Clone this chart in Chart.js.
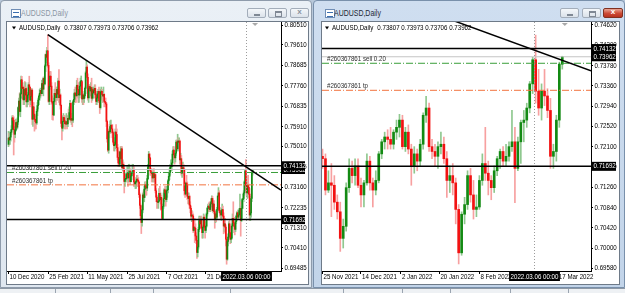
<!DOCTYPE html>
<html>
<head>
<meta charset="utf-8">
<script src="https://cdn.jsdelivr.net/npm/chart.js@4.4.1/dist/chart.umd.min.js"></script>
<style>
  body { margin: 0; width: 625px; height: 293px; overflow: hidden; position: relative; background: #b8c8da;
         font-family: 'Liberation Sans', Arial, sans-serif; }
  .win { position: absolute; top: 0; height: 288px; box-sizing: border-box; border: 1px solid #8e9bab; border-radius: 4px 4px 0 0; }
  #w1 { left: 0; width: 312px; background: linear-gradient(#eaf0f6, #dfe7f0); }
  #w2 { left: 313px; width: 312px; background: linear-gradient(#cfdef0, #c2d4e9); border-color: #7990ab; }
  .ico { position: absolute; top: 8px; width: 8px; height: 7px; border: 1px solid #6f8db5; background: #fff; }
  .ico:after { content: ''; position: absolute; left: 1px; top: 2px; width: 6px; height: 3px; border-top: 1px solid #3b6fb0; border-bottom: 1px solid #3b6fb0; }
  .ttl { position: absolute; top: 7px; font-size: 8.5px; line-height: 11px; transform: scaleX(0.82); transform-origin: 0 0; white-space: nowrap; }
  .btn { position: absolute; top: 7px; height: 10px; box-sizing: border-box; border: 1px solid #a3adba; border-radius: 2px;
         background: linear-gradient(#f4f7fa, #dbe2ea); }
  .btn.cls { background: linear-gradient(#e9a594, #cc4a35 55%, #b8321f); border-color: #81301f; }
  .mn { position: absolute; left: 6px; top: 5px; width: 6px; height: 2px; background: #7f8894; }
  .mx { position: absolute; left: 6px; top: 2px; width: 5px; height: 3px; border: 1px solid #7f8894; border-top-width: 2px; }
  .xx { position: absolute; left: 0; right: 0; top: -2px; text-align: center; font: bold 8px 'Liberation Sans', sans-serif; color: #8a939e; }
  .cls .xx { color: #fff; }
  .box { position: absolute; top: 21px; height: 264px; box-sizing: border-box; border: 1px solid #6e7a88; background: #fff; }
  canvas { position: absolute; top: 22px; }
  #strip { position: absolute; left: 0; top: 288px; width: 625px; height: 5px; background: #eef1f4; border-top: 1px solid #8d98a5; }
  #strip i { position: absolute; top: 0; width: 1px; height: 5px; background: #9aa4b0; }
</style>
</head>
<body>
<div class="win" id="w1">
  <div class="ico" style="left:10px"></div>
  <div class="ttl" style="left:20px;color:#8a96a4">AUDUSD,Daily</div>
  <div class="btn" style="left:246px;width:19px"><i class="mn"></i></div>
  <div class="btn" style="left:267px;width:19px"><i class="mx"></i></div>
  <div class="btn" style="left:289px;width:19px"><span class="xx">x</span></div>
</div>
<div class="win" id="w2">
  <div class="ico" style="left:11px"></div>
  <div class="ttl" style="left:20px;color:#1e2835">AUDUSD,Daily</div>
  <div class="btn" style="left:246px;width:19px"><i class="mn"></i></div>
  <div class="btn" style="left:268px;width:19px"><i class="mx"></i></div>
  <div class="btn cls" style="left:289px;width:20px"><span class="xx">x</span></div>
</div>
<div class="box" style="left:6px;width:303px"></div>
<div class="box" style="left:321px;width:299px"></div>
<canvas id="leftChart" width="301" height="262" style="left:7px"></canvas>
<canvas id="rightChart" width="297" height="262" style="left:322px"></canvas>
<div id="strip"><i style="left:55px"></i><i style="left:110px"></i><i style="left:153px"></i><i style="left:230px"></i><i style="left:343px"></i><i style="left:402px"></i><i style="left:450px"></i><i style="left:510px"></i><i style="left:568px"></i></div>

<script>
const FONT = "'Liberation Sans', Arial, sans-serif";
const NARROW = 0.82;   // terminal font is narrower than Liberation Sans

// daily AUDUSD, 10 Dec 2020 .. 24 Nov 2021 (open of each day = previous close)
const histFirstOpen = 0.7510;
const histClose = [
  0.7539, 0.7530, 0.7543, 0.7565, 0.7578, 0.7630, 0.7620, 0.7577, 0.7556, 0.7575, 0.7609, 0.7588, 0.7612, 0.7677, 0.7706,
  0.7659, 0.7739, 0.7802, 0.7764, 0.7769, 0.7712, 0.7760, 0.7734, 0.7763, 0.7703, 0.7704, 0.7734, 0.7780, 0.7770, 0.7710, 0.7727, 0.7756, 0.7624, 0.7680, 0.7646,
  0.7624, 0.7614, 0.7607, 0.7660, 0.7686, 0.7711, 0.7729, 0.7742, 0.7755, 0.7740, 0.7786, 0.7760, 0.7809, 0.7784, 0.7865, 0.7917, 0.7905, 0.7934, 0.7868, 0.7705,
  0.7772, 0.7819, 0.7774, 0.7704, 0.7697, 0.7643, 0.7705, 0.7741, 0.7736, 0.7722, 0.7759, 0.7738, 0.7797, 0.7722, 0.7734, 0.7687, 0.7605, 0.7583, 0.7614, 0.7632, 0.7617, 0.7604, 0.7602,
  0.7613, 0.7603, 0.7628, 0.7624, 0.7654, 0.7696, 0.7620, 0.7627, 0.7620, 0.7703, 0.7714, 0.7743, 0.7737, 0.7730, 0.7778, 0.7759, 0.7734, 0.7734, 0.7774, 0.7795, 0.7795, 0.7716,
  0.7734, 0.7718, 0.7730, 0.7764, 0.7834, 0.7860, 0.7814, 0.7721, 0.7762, 0.7772, 0.7752, 0.7767, 0.7719, 0.7758, 0.7743, 0.7753, 0.7764, 0.7735, 0.7705, 0.7720, 0.7739,
  0.7750, 0.7707, 0.7677, 0.7747, 0.7750, 0.7736, 0.7729, 0.7737, 0.7705, 0.7700, 0.7693, 0.7614, 0.7535, 0.7484, 0.7569, 0.7567, 0.7591, 0.7597, 0.7580, 0.7563, 0.7520, 0.7504,
  0.7510, 0.7566, 0.7555, 0.7495, 0.7451, 0.7426, 0.7420, 0.7476, 0.7446, 0.7490, 0.7404, 0.7420, 0.7399, 0.7342, 0.7352, 0.7355, 0.7374, 0.7380, 0.7358, 0.7383, 0.7389, 0.7341,
  0.7367, 0.7380, 0.7385, 0.7395, 0.7340, 0.7331, 0.7339, 0.7343, 0.7353, 0.7347, 0.7339, 0.7282, 0.7234, 0.7187, 0.7156, 0.7213, 0.7281, 0.7269, 0.7307, 0.7327, 0.7317, 0.7312,
  0.7355, 0.7408, 0.7466, 0.7449, 0.7390, 0.7382, 0.7377, 0.7358, 0.7380, 0.7359, 0.7373, 0.7300, 0.7271, 0.7250, 0.7247, 0.7253, 0.7288, 0.7259, 0.7270, 0.7215, 0.7174, 0.7229,
  0.7264, 0.7304, 0.7290, 0.7260, 0.7300, 0.7305, 0.7345, 0.7365, 0.7383, 0.7407, 0.7409, 0.7426, 0.7466, 0.7484, 0.7462, 0.7449, 0.7470, 0.7520, 0.7490, 0.7525, 0.7520,
  0.7525, 0.7440, 0.7445, 0.7380, 0.7400, 0.7405, 0.7395, 0.7300, 0.7285, 0.7335, 0.7330, 0.7275, 0.7265, 0.7275, 0.7235, 0.7220, 0.7185, 0.7190
];
const histHigh = [
  0.7569, 0.7560, 0.7567, 0.7575, 0.7595, 0.7640, 0.7640, 0.7635, 0.7590, 0.7590, 0.7625, 0.7620, 0.7630, 0.7680, 0.7720,
  0.7743, 0.7745, 0.7820, 0.7818, 0.7790, 0.7775, 0.7765, 0.7795, 0.7790, 0.7770, 0.7718, 0.7745, 0.7790, 0.7819, 0.7770, 0.7748, 0.7763, 0.7762, 0.7690, 0.7700,
  0.7650, 0.7640, 0.7630, 0.7670, 0.7700, 0.7720, 0.7735, 0.7760, 0.7765, 0.7760, 0.7800, 0.7804, 0.7815, 0.7815, 0.7870, 0.7920, 0.7935, 0.7950, 0.8007, 0.7880,
  0.7788, 0.7840, 0.7840, 0.7790, 0.7730, 0.7710, 0.7720, 0.7760, 0.7790, 0.7750, 0.7770, 0.7770, 0.7810, 0.7849, 0.7760, 0.7740, 0.7690, 0.7620, 0.7640, 0.7650, 0.7640, 0.7640, 0.7630,
  0.7650, 0.7630, 0.7640, 0.7670, 0.7680, 0.7710, 0.7700, 0.7650, 0.7650, 0.7710, 0.7740, 0.7760, 0.7770, 0.7750, 0.7800, 0.7810, 0.7790, 0.7770, 0.7790, 0.7810, 0.7820, 0.7800,
  0.7750, 0.7740, 0.7740, 0.7770, 0.7840, 0.7891, 0.7870, 0.7830, 0.7780, 0.7780, 0.7780, 0.7790, 0.7810, 0.7770, 0.7760, 0.7770, 0.7780, 0.7780, 0.7750, 0.7740, 0.7750,
  0.7760, 0.7770, 0.7720, 0.7760, 0.7770, 0.7760, 0.7750, 0.7770, 0.7740, 0.7720, 0.7720, 0.7700, 0.7620, 0.7560, 0.7580, 0.7600, 0.7617, 0.7620, 0.7600, 0.7600, 0.7570, 0.7540,
  0.7540, 0.7580, 0.7600, 0.7580, 0.7510, 0.7480, 0.7450, 0.7480, 0.7500, 0.7500, 0.7500, 0.7440, 0.7430, 0.7410, 0.7380, 0.7370, 0.7380, 0.7410, 0.7390, 0.7420, 0.7420, 0.7400,
  0.7380, 0.7390, 0.7420, 0.7420, 0.7410, 0.7350, 0.7350, 0.7360, 0.7370, 0.7370, 0.7360, 0.7340, 0.7290, 0.7240, 0.7190, 0.7230, 0.7290, 0.7300, 0.7320, 0.7340, 0.7340, 0.7340,
  0.7370, 0.7420, 0.7478, 0.7470, 0.7450, 0.7400, 0.7400, 0.7380, 0.7390, 0.7400, 0.7380, 0.7380, 0.7310, 0.7280, 0.7270, 0.7260, 0.7310, 0.7320, 0.7290, 0.7280, 0.7230, 0.7240,
  0.7290, 0.7310, 0.7320, 0.7300, 0.7320, 0.7320, 0.7350, 0.7380, 0.7400, 0.7420, 0.7440, 0.7440, 0.7480, 0.7500, 0.7500, 0.7480, 0.7480, 0.7530, 0.7530, 0.7556, 0.7540,
  0.7540, 0.7530, 0.7470, 0.7460, 0.7410, 0.7430, 0.7420, 0.7400, 0.7320, 0.7340, 0.7370, 0.7340, 0.7290, 0.7290, 0.7280, 0.7250, 0.7230, 0.7210
];
const histLow = [
  0.7500, 0.7507, 0.7510, 0.7525, 0.7555, 0.7575, 0.7590, 0.7462, 0.7520, 0.7540, 0.7570, 0.7580, 0.7580, 0.7600, 0.7670,
  0.7642, 0.7635, 0.7720, 0.7730, 0.7717, 0.7690, 0.7690, 0.7720, 0.7715, 0.7680, 0.7680, 0.7690, 0.7720, 0.7750, 0.7680, 0.7690, 0.7700, 0.7600, 0.7592, 0.7630,
  0.7570, 0.7580, 0.7580, 0.7600, 0.7640, 0.7670, 0.7690, 0.7710, 0.7720, 0.7730, 0.7740, 0.7740, 0.7730, 0.7760, 0.7780, 0.7840, 0.7890, 0.7880, 0.7860, 0.7700,
  0.7690, 0.7760, 0.7760, 0.7690, 0.7622, 0.7620, 0.7640, 0.7700, 0.7720, 0.7690, 0.7710, 0.7710, 0.7720, 0.7700, 0.7690, 0.7670, 0.7590, 0.7530, 0.7570, 0.7590, 0.7590, 0.7580, 0.7580,
  0.7590, 0.7580, 0.7590, 0.7610, 0.7620, 0.7650, 0.7610, 0.7600, 0.7590, 0.7610, 0.7690, 0.7700, 0.7700, 0.7700, 0.7730, 0.7720, 0.7700, 0.7700, 0.7720, 0.7760, 0.7780, 0.7700,
  0.7690, 0.7690, 0.7700, 0.7720, 0.7740, 0.7820, 0.7800, 0.7710, 0.7700, 0.7720, 0.7730, 0.7730, 0.7700, 0.7710, 0.7720, 0.7720, 0.7740, 0.7720, 0.7690, 0.7690, 0.7700,
  0.7700, 0.7700, 0.7650, 0.7670, 0.7720, 0.7710, 0.7700, 0.7700, 0.7680, 0.7690, 0.7680, 0.7590, 0.7520, 0.7477, 0.7470, 0.7540, 0.7560, 0.7570, 0.7560, 0.7540, 0.7510, 0.7480,
  0.7480, 0.7490, 0.7540, 0.7480, 0.7440, 0.7410, 0.7410, 0.7410, 0.7430, 0.7440, 0.7400, 0.7390, 0.7380, 0.7290, 0.7320, 0.7340, 0.7350, 0.7340, 0.7320, 0.7340, 0.7370, 0.7330,
  0.7340, 0.7350, 0.7370, 0.7370, 0.7320, 0.7320, 0.7310, 0.7310, 0.7320, 0.7320, 0.7320, 0.7270, 0.7220, 0.7170, 0.7106, 0.7140, 0.7200, 0.7250, 0.7250, 0.7270, 0.7280, 0.7280,
  0.7300, 0.7350, 0.7400, 0.7430, 0.7370, 0.7370, 0.7340, 0.7340, 0.7340, 0.7340, 0.7340, 0.7290, 0.7250, 0.7220, 0.7222, 0.7220, 0.7250, 0.7250, 0.7240, 0.7210, 0.7170, 0.7170,
  0.7220, 0.7250, 0.7260, 0.7230, 0.7250, 0.7270, 0.7290, 0.7330, 0.7350, 0.7370, 0.7390, 0.7390, 0.7410, 0.7450, 0.7440, 0.7420, 0.7430, 0.7460, 0.7480, 0.7480, 0.7490,
  0.7480, 0.7420, 0.7420, 0.7370, 0.7360, 0.7380, 0.7370, 0.7280, 0.7270, 0.7280, 0.7320, 0.7260, 0.7240, 0.7240, 0.7220, 0.7200, 0.7170, 0.7160
];

// daily AUDUSD, 25 Nov 2021 .. 18 Mar 2022 (both windows)
const recentOpen = [
  0.7190, 0.7185, 0.7120, 0.7135, 0.7130, 0.7095, 0.7075, 0.7020, 0.7045, 0.7125, 0.7165, 0.7150, 0.7170, 0.7130, 0.7110, 0.7135, 0.7180,
  0.7135, 0.7120, 0.7140, 0.7195, 0.7220, 0.7230, 0.7225, 0.7215, 0.7240, 0.7250, 0.7265, 0.7210, 0.7240, 0.7205, 0.7170, 0.7195, 0.7180,
  0.7215, 0.7275, 0.7290, 0.7210, 0.7200, 0.7190, 0.7210, 0.7215, 0.7185, 0.7140, 0.7150, 0.7135, 0.7080, 0.6990, 0.7070, 0.7090, 0.7150,
  0.7110, 0.7080, 0.7085, 0.7140, 0.7175, 0.7155, 0.7140, 0.7125, 0.7160, 0.7185, 0.7200, 0.7180, 0.7190, 0.7210, 0.7220, 0.7165, 0.7220,
  0.7260, 0.7265, 0.7290, 0.7340, 0.7390, 0.7325, 0.7290, 0.7325, 0.7315, 0.7285, 0.7190, 0.7200, 0.7265, 0.73807
];
const recentHigh = [
  0.7205, 0.7195, 0.7160, 0.7175, 0.7150, 0.7110, 0.7095, 0.7060, 0.7135, 0.7185, 0.7180, 0.7185, 0.7185, 0.7145, 0.7140, 0.7195, 0.7190,
  0.7145, 0.7160, 0.7200, 0.7225, 0.7240, 0.7245, 0.7250, 0.7245, 0.7265, 0.7277, 0.7275, 0.7250, 0.7255, 0.7215, 0.7210, 0.7205, 0.7225,
  0.7280, 0.7314, 0.7300, 0.7225, 0.7215, 0.7220, 0.7240, 0.7230, 0.7200, 0.7170, 0.7175, 0.7145, 0.7090, 0.7075, 0.7105, 0.7160, 0.7165,
  0.7140, 0.7110, 0.7150, 0.7195, 0.7250, 0.7180, 0.7150, 0.7170, 0.7190, 0.7205, 0.7210, 0.7215, 0.7220, 0.7285, 0.7250, 0.7230, 0.7265,
  0.7285, 0.7300, 0.7345, 0.7395, 0.7441, 0.7370, 0.7340, 0.7370, 0.7330, 0.7310, 0.7215, 0.7275, 0.7385, 0.73973
];
const recentLow = [
  0.7165, 0.7110, 0.7115, 0.7065, 0.7080, 0.7060, 0.6993, 0.7000, 0.7035, 0.7115, 0.7135, 0.7130, 0.7125, 0.7085, 0.7085, 0.7130, 0.7120,
  0.7085, 0.7110, 0.7135, 0.7185, 0.7205, 0.7205, 0.7205, 0.7205, 0.7225, 0.7230, 0.7205, 0.7200, 0.7195, 0.7130, 0.7155, 0.7160, 0.7170,
  0.7205, 0.7260, 0.7200, 0.7185, 0.7170, 0.7165, 0.7195, 0.7175, 0.7105, 0.7115, 0.7110, 0.7050, 0.6967, 0.6985, 0.7050, 0.7080, 0.7095,
  0.7060, 0.7065, 0.7080, 0.7130, 0.7140, 0.7110, 0.7100, 0.7115, 0.7150, 0.7165, 0.7170, 0.7170, 0.7180, 0.7200, 0.7094, 0.7160, 0.7175,
  0.7220, 0.7250, 0.7280, 0.7320, 0.7300, 0.7275, 0.7265, 0.7295, 0.7270, 0.7165, 0.7165, 0.7180, 0.7250, 0.73706
];
const recentClose = [
  0.7185, 0.7120, 0.7135, 0.7130, 0.7095, 0.7075, 0.7020, 0.7045, 0.7125, 0.7165, 0.7150, 0.7170, 0.7130, 0.7110, 0.7135, 0.7180, 0.7135,
  0.7120, 0.7140, 0.7195, 0.7220, 0.7230, 0.7225, 0.7215, 0.7240, 0.7250, 0.7265, 0.7210, 0.7240, 0.7205, 0.7170, 0.7195, 0.7180, 0.7215,
  0.7275, 0.7290, 0.7210, 0.7200, 0.7190, 0.7210, 0.7215, 0.7185, 0.7140, 0.7150, 0.7135, 0.7080, 0.6990, 0.7070, 0.7090, 0.7150, 0.7110,
  0.7080, 0.7085, 0.7140, 0.7175, 0.7155, 0.7140, 0.7125, 0.7160, 0.7185, 0.7200, 0.7180, 0.7190, 0.7210, 0.7220, 0.7165, 0.7220, 0.7260,
  0.7265, 0.7290, 0.7340, 0.7390, 0.7325, 0.7290, 0.7325, 0.7315, 0.7285, 0.7190, 0.7200, 0.7265, 0.7381, 0.73962
];

// price scale ticks shown by the terminal
const leftPriceTicks = [0.80510, 0.79610, 0.78685, 0.77760, 0.76835, 0.75910, 0.75010, 0.74085, 0.73160, 0.72235, 0.71310, 0.70410, 0.69485];
const rightPriceTicks = [0.74620, 0.74200, 0.73780, 0.73360, 0.72940, 0.72520, 0.72100, 0.71680, 0.71260, 0.70840, 0.70420, 0.70000, 0.69580];

// time scale labels (bar number, text)
const leftTimeBars = [0, 53.7, 106.3, 160.3, 213.5, 266.1];
const leftTimeText = ['10 Dec 2020', '25 Feb 2021', '11 May 2021', '25 Jul 2021', '7 Oct 2021', '21 Dec 2021'];
const rightTimeBars = [0, 13, 26.5, 39.5, 53, 79.5];
const rightTimeText = ['25 Nov 2021', '14 Dec 2021', '2 Jan 2022', '20 Jan 2022', '8 Feb 2022', '17 Mar 2022'];

// chart objects
const levelPrices = [0.74132, 0.71692];
const orderTicket = '#260367861';
const sellPrice = 0.73827, sellText = 'sell 0.20';
const tpPrice = 0.73267, tpText = 'tp';
const trendBars = [53, 105];            // bars on the long chart
const trendPrices = [0.80070, 0.78905];
const markerBar = 71.5;                 // bars on the short chart
const markerText = '2022.03.06 00:00';

const histOpen = [histFirstOpen].concat(histClose.slice(0, -1));
const off = histClose.length;

// narrow text, like the terminal's font
function ntext(ctx, s, x, y) {
  ctx.save();
  ctx.translate(x, y);
  ctx.scale(NARROW, 1);
  ctx.fillText(s, 0, 0);
  ctx.restore();
}
function nwidth(ctx, s) {
  return ctx.measureText(s).width * NARROW;
}

function overlay(o) {
  return {
    id: 'overlay',
    afterDraw(chart) {
      const { ctx, chartArea: a, scales: { x, y } } = chart;
      const X = v => x.getPixelForValue(v), Y = v => y.getPixelForValue(v);
      const last = o.close.length - 1;
      const bid = o.close[last];
      const hline = (p) => { ctx.beginPath(); ctx.moveTo(a.left, Y(p)); ctx.lineTo(a.right, Y(p)); ctx.stroke(); };
      ctx.font = '7.5px ' + FONT;

      ctx.save();
      ctx.beginPath(); ctx.rect(a.left, a.top, a.right - a.left, a.bottom - a.top); ctx.clip();

      // vertical marker
      const mx = Math.round(X(o.marker)) + 0.5;
      ctx.strokeStyle = '#9c9c9c'; ctx.lineWidth = 1; ctx.setLineDash([1, 2]);
      ctx.beginPath(); ctx.moveTo(mx, a.top); ctx.lineTo(mx, a.bottom); ctx.stroke();

      // bid line
      ctx.setLineDash([]); ctx.strokeStyle = '#c4c4c4'; hline(bid);

      // levels
      ctx.strokeStyle = '#000'; ctx.lineWidth = 1.5;
      levelPrices.forEach(hline);

      // order lines
      ctx.lineWidth = 1; ctx.setLineDash([7, 2, 1, 2]);
      ctx.strokeStyle = '#3a9e3a'; hline(sellPrice);
      ctx.strokeStyle = '#f2733f'; hline(tpPrice);
      ctx.setLineDash([]);
      ctx.fillStyle = '#303030'; ctx.textBaseline = 'bottom'; ctx.textAlign = 'left';
      ntext(ctx, orderTicket + ' ' + sellText, a.left + 5, Y(sellPrice) - 0.5);
      ntext(ctx, orderTicket + ' ' + tpText, a.left + 5, Y(tpPrice) - 0.5);

      // trend line
      const tb = o.trendBars, tp = trendPrices;
      const at = b => tp[0] + (tp[1] - tp[0]) * (b - tb[0]) / (tb[1] - tb[0]);
      const b0 = Math.max(tb[0], x.min), b1 = x.max;
      ctx.strokeStyle = '#000'; ctx.lineWidth = 1.5;
      ctx.beginPath(); ctx.moveTo(X(b0), Y(at(b0))); ctx.lineTo(X(b1), Y(at(b1))); ctx.stroke();
      ctx.restore();

      // chart shift mark
      const sx = X(last) + 2.5;
      ctx.fillStyle = '#a9a9a9';
      ctx.beginPath(); ctx.moveTo(sx - 3, a.top + 1); ctx.lineTo(sx + 3, a.top + 1); ctx.lineTo(sx, a.top + 4); ctx.fill();

      // header
      ctx.fillStyle = '#000';
      ctx.beginPath(); ctx.moveTo(o.hdrX, 4.5); ctx.lineTo(o.hdrX + 4, 4.5); ctx.lineTo(o.hdrX + 2, 7.5); ctx.fill();
      ctx.textBaseline = 'middle'; ctx.textAlign = 'left';
      const name = 'AUDUSD,Daily';
      ntext(ctx, name, o.hdrX + 7, 6);
      const ohlc = [o.open[last], o.high[last], o.low[last], o.close[last]].map(v => v.toFixed(5)).join(' ');
      ntext(ctx, ohlc, o.hdrX + 7 + nwidth(ctx, name) + 4, 6);

      // price scale labels
      ctx.fillStyle = '#000';
      y.ticks.forEach((t, i) => ntext(ctx, t.value.toFixed(5), a.right + 3.5, y.getPixelForTick(i)));

      // time scale labels
      ctx.textBaseline = 'top';
      x.ticks.forEach((t, i) => ntext(ctx, o.timeText[i], x.getPixelForTick(i) + 1, a.bottom + 2));

      // price boxes
      ctx.textBaseline = 'middle';
      const box = (p) => {
        const py = Y(p);
        ctx.fillStyle = '#000'; ctx.fillRect(a.right + 1, py - 4.5, o.axisW - 4, 9);
        ctx.fillStyle = '#fff'; ntext(ctx, p.toFixed(5), a.right + 2.5, py);
      };
      box(bid);
      levelPrices.forEach(box);

      // time marker box
      const tw = nwidth(ctx, markerText) + 3;
      ctx.fillStyle = '#000'; ctx.fillRect(mx - tw / 2, a.bottom + 1, tw, 9);
      ctx.fillStyle = '#fff'; ntext(ctx, markerText, mx - tw / 2 + 1.5, a.bottom + 5.5);
    }
  };
}

function buildChart(id, o) {
  const up = o.close.map((c, i) => c >= o.open[i]);
  return new Chart(document.getElementById(id), {
    type: 'bar',
    data: {
      datasets: [
        {
          data: o.close.map((c, i) => ({ x: i, y: [o.low[i], o.high[i]] })),
          backgroundColor: up.map(u => u ? '#8fc88f' : '#f7a0a0'),
          barThickness: 1, grouped: false, order: 2
        },
        {
          data: o.close.map((c, i) => ({ x: i, y: [o.open[i], c] })),
          backgroundColor: up.map(u => u ? '#138a13' : '#f21212'),
          barThickness: o.bodyW, minBarLength: 1, grouped: false, order: 1
        }
      ]
    },
    options: {
      responsive: false, animation: false, devicePixelRatio: 1, events: [],
      layout: { padding: 0 },
      plugins: { legend: { display: false }, tooltip: { enabled: false } },
      scales: {
        x: {
          type: 'linear', min: o.xRange[0], max: o.xRange[1], offset: false,
          grid: { display: true, drawOnChartArea: false, tickLength: 3, color: '#000', offset: false },
          border: { color: '#000' },
          afterBuildTicks: s => { s.ticks = o.timeBars.map(v => ({ value: v })); },
          afterFit: s => { s.height = 13; },
          ticks: { display: false, autoSkip: false }
        },
        y: {
          type: 'linear', position: 'right', min: o.yRange[0], max: o.yRange[1],
          grid: { display: true, drawOnChartArea: false, tickLength: 2, color: '#000' },
          border: { color: '#000' },
          afterBuildTicks: s => { s.ticks = o.priceTicks.map(v => ({ value: v })); },
          afterFit: s => { s.width = o.axisW; },
          ticks: { display: false, autoSkip: false }
        }
      }
    },
    plugins: [overlay(o)]
  });
}

buildChart('leftChart', {
  open: histOpen.concat(recentOpen), high: histHigh.concat(recentHigh),
  low: histLow.concat(recentLow), close: histClose.concat(recentClose),
  bodyW: 1, xRange: [-2.02, 367.3], yRange: [0.69363, 0.80646], axisW: 27,
  priceTicks: leftPriceTicks, timeBars: leftTimeBars, timeText: leftTimeText,
  trendBars: trendBars, marker: markerBar + off, hdrX: 5
});

buildChart('rightChart', {
  open: recentOpen, high: recentHigh, low: recentLow, close: recentClose,
  bodyW: 2, xRange: [-0.17, 90.7], yRange: [0.69524, 0.74682], axisW: 28,
  priceTicks: rightPriceTicks, timeBars: rightTimeBars, timeText: rightTimeText,
  trendBars: trendBars.map(b => b - off), marker: markerBar, hdrX: 3
});
</script>
</body>
</html>
